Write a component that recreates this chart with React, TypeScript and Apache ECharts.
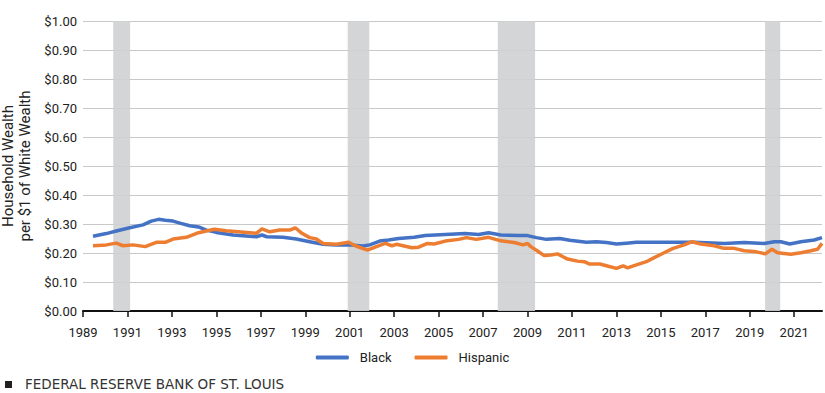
import React, { useEffect, useRef } from "react";
import * as echarts from "echarts";

const BASE_YEAR = 1989;
const xTickYears = [1989, 2022.25];

const blackYears = [
  1989.45, 1990.05, 1990.5, 1991.1, 1991.7, 1992.07, 1992.4, 1992.7, 1993.05, 1993.4, 1993.8,
  1994.2, 1994.55, 1995.0, 1995.75, 1996.8, 1997.05, 1997.27, 1998.0, 1998.6, 1999.2, 1999.8,
  2000.4, 2001.0, 2001.6, 2001.9, 2002.35, 2002.75, 2003.2, 2003.9, 2004.4, 2005.3, 2006.2,
  2006.8, 2007.25, 2007.8, 2008.6, 2009.0, 2009.4, 2009.85, 2010.45, 2010.9, 2011.65, 2012.1,
  2012.55, 2013.0, 2013.45, 2013.9, 2015.7, 2016.5, 2017.85, 2018.75, 2019.65, 2020.1, 2020.4,
  2020.8, 2021.3, 2021.9, 2022.25,
];
const blackValues = [
  0.258, 0.267, 0.276, 0.287, 0.297, 0.31, 0.316, 0.313, 0.31, 0.302, 0.294,
  0.29, 0.279, 0.271, 0.262, 0.256, 0.262, 0.256, 0.254, 0.248, 0.239, 0.23,
  0.228, 0.228, 0.224, 0.228, 0.241, 0.245, 0.25, 0.254, 0.26, 0.264, 0.267,
  0.264, 0.27, 0.262, 0.26, 0.26, 0.253, 0.247, 0.25, 0.244, 0.237, 0.239,
  0.236, 0.231, 0.234, 0.237, 0.237, 0.237, 0.233, 0.236, 0.233, 0.239, 0.239,
  0.231, 0.239, 0.245, 0.253,
];

const hispanicYears = [
  1989.45, 1990.05, 1990.5, 1990.8, 1991.25, 1991.8, 1992.3, 1992.7, 1993.05, 1993.65, 1994.2,
  1994.9, 1995.45, 1996.8, 1997.05, 1997.4, 1997.85, 1998.3, 1998.55, 1998.85, 1999.2, 1999.5,
  1999.8, 2000.4, 2000.95, 2001.25, 2001.8, 2002.2, 2002.6, 2002.9, 2003.1, 2003.8, 2004.1,
  2004.5, 2004.8, 2005.3, 2005.9, 2006.25, 2006.7, 2007.25, 2007.8, 2008.4, 2008.8, 2009.0,
  2009.15, 2009.45, 2009.75, 2010.05, 2010.35, 2010.6, 2010.8, 2011.25, 2011.55, 2011.8, 2012.25,
  2012.55, 2013.0, 2013.3, 2013.5, 2013.9, 2014.35, 2014.7, 2015.1, 2015.55, 2016.05, 2016.4,
  2016.8, 2017.4, 2017.85, 2018.3, 2018.75, 2019.3, 2019.7, 2020.0, 2020.25, 2020.85, 2021.3,
  2021.75, 2022.05, 2022.25,
];
const hispanicValues = [
  0.225, 0.228, 0.234, 0.225, 0.228, 0.222, 0.237, 0.237, 0.248, 0.254, 0.27,
  0.282, 0.277, 0.268, 0.283, 0.273, 0.279, 0.279, 0.287, 0.268, 0.253, 0.248,
  0.233, 0.23, 0.237, 0.225, 0.21, 0.222, 0.233, 0.225, 0.23, 0.218, 0.22,
  0.233, 0.231, 0.241, 0.247, 0.253, 0.247, 0.254, 0.242, 0.236, 0.228, 0.233,
  0.222, 0.207, 0.191, 0.193, 0.197, 0.187, 0.179, 0.172, 0.17, 0.162, 0.162,
  0.156, 0.147, 0.156, 0.149, 0.159, 0.17, 0.184, 0.199, 0.216, 0.228, 0.239,
  0.231, 0.225, 0.216, 0.216, 0.208, 0.204, 0.197, 0.213, 0.201, 0.196, 0.201,
  0.208, 0.213, 0.233,
];

const recessionStart = [1990.36, 2000.91, 2007.66, 2019.69];
const recessionEnd = [1991.12, 2001.88, 2009.34, 2020.37];

const seriesNames = ["Black", "Hispanic"];
const yAxisTitle = "Household Wealth\nper $1 of White Wealth";
const footerText = "FEDERAL RESERVE BANK OF ST. LOUIS";

export default function App() {
  const ref = useRef<HTMLDivElement>(null);
  useEffect(() => {
    document.body.style.margin = "0";
    if (!ref.current) return;
    const chart = echarts.init(ref.current, null, { renderer: "svg" });
    const toPts = (ys: number[], vs: number[]) => ys.map((y, i) => [y - BASE_YEAR, vs[i]]);
    const font = "Roboto, 'Open Sans', sans-serif";
    chart.setOption({
      animation: false,
      grid: { left: 83, right: 3, top: 21, bottom: 82, containLabel: false, outerBoundsMode: "none" },
      xAxis: {
        type: "value",
        min: 0,
        max: xTickYears[1] - BASE_YEAR,
        interval: 2,
        splitLine: { show: false },
        axisLine: { show: true, lineStyle: { color: "#111", width: 2 } },
        axisTick: { show: true, inside: false, length: 6, lineStyle: { color: "#111", width: 1.5 } },
        axisLabel: {
          margin: 15,
          color: "#222",
          fontSize: 13,
          fontFamily: font,
          formatter: (v: number) => String(Math.round(v + BASE_YEAR)),
          showMaxLabel: false,
        },
      },
      yAxis: {
        type: "value",
        min: 0,
        max: 1,
        interval: 0.1,
        name: yAxisTitle,
        nameLocation: "middle",
        nameRotate: 90,
        nameGap: 50,
        nameTextStyle: { color: "#222", fontSize: 15, lineHeight: 17, fontFamily: font },
        axisLine: { show: false },
        axisTick: { show: false },
        splitLine: { lineStyle: { color: "#c8c8c8", width: 1 } },
        axisLabel: {
          margin: 6,
          color: "#222",
          fontSize: 13,
          fontFamily: font,
          formatter: (v: number) => "$" + v.toFixed(2),
        },
      },
      legend: {
        top: 346,
        left: "center",
        itemWidth: 33,
        itemHeight: 4,
        itemGap: 23,
        icon: "roundRect",
        textStyle: { color: "#222", fontSize: 13, fontFamily: font, padding: [0, 0, 0, 6] },
        data: seriesNames,
      },
      series: [
        {
          name: seriesNames[0],
          type: "line",
          data: toPts(blackYears, blackValues),
          symbol: "none",
          lineStyle: { width: 3.5, color: "#4472c4" },
          itemStyle: { color: "#4472c4" },
          z: 3,
          markArea: {
            silent: true,
            itemStyle: { color: "#cfd0d3", opacity: 0.9 },
            data: recessionStart.map((s, i) => [
              { xAxis: s - BASE_YEAR },
              { xAxis: recessionEnd[i] - BASE_YEAR },
            ]),
          },
        },
        {
          name: seriesNames[1],
          type: "line",
          data: toPts(hispanicYears, hispanicValues),
          symbol: "none",
          lineStyle: { width: 3.5, color: "#ed7d31" },
          itemStyle: { color: "#ed7d31" },
          z: 4,
        },
      ],
      graphic: [
        { type: "rect", left: 5, top: 381, shape: { width: 7, height: 7 }, style: { fill: "#231f20" } },
        {
          type: "text",
          left: 25,
          top: 377,
          style: { text: footerText, fill: "#333", font: "13.5px 'DejaVu Sans', sans-serif" },
        },
      ],
    });
    return () => chart.dispose();
  }, []);
  return <div ref={ref} style={{ width: 825, height: 393 }} />;
}
